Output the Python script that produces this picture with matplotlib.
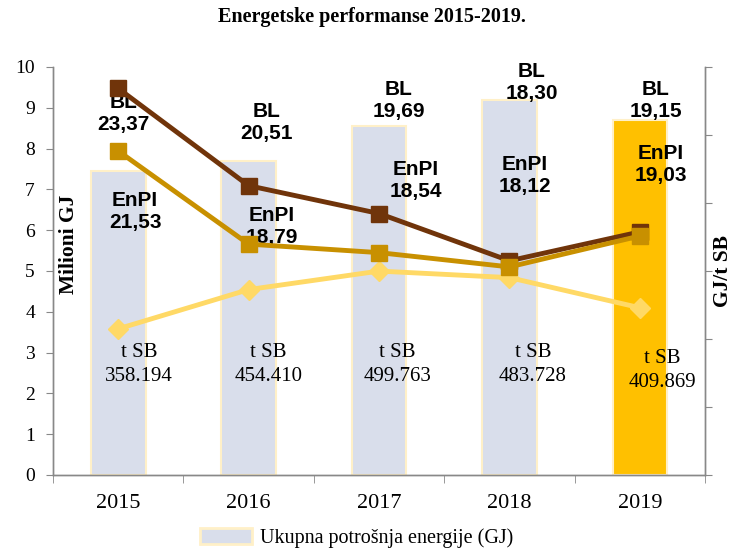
"""
Energetske performanse 2015-2019: total energy bars with BL / EnPI / t SB lines.
"""

import matplotlib
matplotlib.use("Agg")
import matplotlib.pyplot as plt
from matplotlib.patches import Patch
from matplotlib.ticker import MultipleLocator, FixedLocator

# Data
years = ["2015", "2016", "2017", "2018", "2019"]
energy_mil_gj = [7.45, 7.70, 8.55, 9.20, 8.70]          # Milioni GJ (bars)
bl_values = [23.37, 20.51, 19.69, 18.30, 19.15]          # GJ/t SB
enpi_values = [21.53, 18.79, 18.54, 18.12, 19.03]        # GJ/t SB
tsb_values = [358.194, 454.410, 499.763, 483.728, 409.869]  # t SB (thousands)
tsb_labels = ["358.194", "454.410", "499.763", "483.728", "409.869"]
bl_labels = ["23,37", "20,51", "19,69", "18,30", "19,15"]
enpi_labels = ["21,53", "18,79", "18,54", "18,12", "19,03"]

SERIF = "Liberation Serif"
SANS = "Liberation Sans"

BAR_COLOR = "#D9DEEB"
BAR_EDGE = "#FFF0C8"
BAR_HIGHLIGHT = "#FFC000"
BL_COLOR = "#70340A"
ENPI_COLOR = "#C89000"
TSB_COLOR = "#FFD966"
AXIS_GRAY = "#888888"


def main():
    plt.rcParams["font.family"] = [SERIF, "DejaVu Serif"]

    fig = plt.figure(figsize=(7.43, 5.5), dpi=100)
    ax = fig.add_axes([0.0713, 0.1364, 0.8777, 0.7418])
    ax2 = ax.twinx()

    x = list(range(len(years)))

    # Bars (last year highlighted)
    colors = [BAR_COLOR] * (len(years) - 1) + [BAR_HIGHLIGHT]
    ax.bar(x, energy_mil_gj, width=0.42, color=colors, edgecolor=BAR_EDGE,
           linewidth=1.5, zorder=2)

    # t SB line, plotted in hundreds of thousands on the left scale
    tsb_scaled = [v / 100 for v in tsb_values]
    ax.plot(x, tsb_scaled, color=TSB_COLOR, lw=3.5, marker="D", ms=10,
            zorder=3)

    # BL and EnPI on the secondary axis
    ax2.plot(x, bl_values, color=BL_COLOR, lw=3.5, marker="s", ms=12,
             zorder=3)
    ax2.plot(x, enpi_values, color=ENPI_COLOR, lw=3.5, marker="s", ms=12,
             zorder=4)

    ax.set_xlim(-0.5, len(years) - 0.5)
    ax.set_ylim(0, 10)
    ax2.set_ylim(12, 24)

    # Axis styling
    for a in (ax, ax2):
        a.spines["top"].set_visible(False)
        for side in ("left", "right", "bottom"):
            a.spines[side].set_color(AXIS_GRAY)
            a.spines[side].set_linewidth(1.0)

    ax.yaxis.set_major_locator(MultipleLocator(1))
    ax.tick_params(axis="y", direction="out", length=5, color=AXIS_GRAY,
                   labelsize=14, pad=8)
    ax2.yaxis.set_major_locator(MultipleLocator(2))
    ax2.tick_params(axis="y", direction="out", length=5, color=AXIS_GRAY,
                    labelright=False)

    ax.set_xticks(x)
    ax.set_xticklabels(years)
    ax.xaxis.set_minor_locator(FixedLocator([i + 0.5 for i in range(-1, len(years))]))
    ax.tick_params(axis="x", which="major", length=0, labelsize=16, pad=14)
    ax.tick_params(axis="x", which="minor", direction="out", length=6,
                   color=AXIS_GRAY)

    # Axis titles (placed inside like the original)
    ax.text(0.025, 0.566, "Milioni GJ", transform=ax.transAxes, rotation=90,
            ha="center", va="center", fontsize=15.5, fontweight="bold")
    ax.text(1.028, 0.50, "GJ/t SB", transform=ax.transAxes, rotation=90,
            ha="center", va="center", fontsize=15.5, fontweight="bold")

    # Data labels
    bl_pos = [(0.04, 8.87), (1.14, 8.63), (2.15, 9.19), (3.17, 9.63), (4.12, 9.19)]
    enpi_pos = [(0.13, 6.45), (1.18, 6.10), (2.28, 7.23), (3.12, 7.35), (4.16, 7.62)]
    tsb_pos = [(0.16, 2.70), (1.15, 2.70), (2.14, 2.70), (3.18, 2.70), (4.17, 2.57)]
    for (px, py), lab in zip(bl_pos, bl_labels):
        ax.text(px, py, "BL\n" + lab, ha="center", va="center", fontsize=15,
                fontweight="bold", family=SANS, linespacing=1.2, zorder=5)
    for (px, py), lab in zip(enpi_pos, enpi_labels):
        ax.text(px, py, "EnPI\n" + lab, ha="center", va="center", fontsize=15,
                fontweight="bold", family=SANS, linespacing=1.2, zorder=5)
    for (px, py), lab in zip(tsb_pos, tsb_labels):
        ax.text(px, py, "t SB\n" + lab, ha="center", va="center", fontsize=15,
                linespacing=1.35, zorder=5)

    # Keep the labels above the twin-axis lines
    ax.set_zorder(ax2.get_zorder() - 1)
    ax.patch.set_visible(False)

    fig.text(0.5, 0.969, "Energetske performanse 2015-2019.", ha="center",
             va="center", fontsize=14.5, fontweight="bold")

    handle = Patch(facecolor=BAR_COLOR, edgecolor=BAR_EDGE, linewidth=2)
    fig.legend([handle], ["Ukupna potrošnja energije (GJ)"], loc="center",
               bbox_to_anchor=(0.48, 0.022), frameon=False, fontsize=14.5,
               handlelength=2.6, handleheight=0.9, handletextpad=0.4)

    fig.savefig("out.png", dpi=100)


if __name__ == "__main__":
    main()
